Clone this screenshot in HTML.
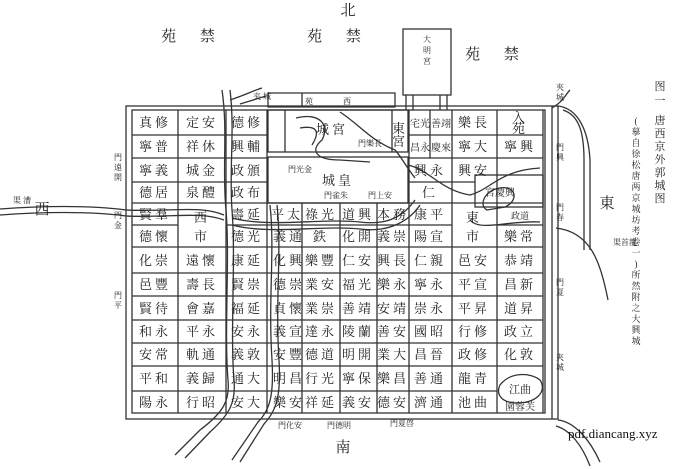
<!DOCTYPE html>
<html><head><meta charset="utf-8"><style>
html,body{margin:0;padding:0;background:#fff}
svg{display:block}
text{font-family:"Liberation Serif","Noto Serif CJK SC","Noto Sans CJK SC",serif;fill:#222}
.c{font-size:13px;text-anchor:middle;letter-spacing:3px}
.s{font-size:8px;text-anchor:middle}
.b{font-size:15px;text-anchor:middle}
</style></head><body>
<svg width="696" height="469" viewBox="0 0 696 469" xmlns="http://www.w3.org/2000/svg">
<g stroke="#333" fill="none" stroke-width="1.3">
<!-- outer wall -->
<rect x="126" y="106" width="432" height="313"/>
<rect x="132" y="110" width="413" height="303"/>
<line x1="552" y1="106" x2="552" y2="419"/>
<!-- 夹城 -->
<path d="M558 106 C575 108 588 125 590 160 L590 250"/>
<path d="M563 110 C578 115 584 130 584 160 L584 250"/>
<path d="M556 228 C590 232 600 260 608 300"/>
<path d="M558 420 C575 422 590 440 600 462"/>
<path d="M556 426 C570 430 582 445 590 466"/>
<!-- 大明宫 -->
<rect x="403" y="29" width="48" height="66"/>
<path d="M406 95 L406 110 M413 95 L413 110 M440 95 L440 110 M447 95 L447 110"/>
<path d="M268 93 L395 93 L395 107 L268 107 Z M302 93 L302 107"/>
<path d="M230 100 C245 95 255 90 262 88 M240 104 L266 96"/>
<!-- palace city -->
<rect x="268" y="110" width="140" height="42"/>
<line x1="392" y1="110" x2="392" y2="152"/>
<line x1="285" y1="110" x2="285" y2="152"/>
<rect x="268" y="157" width="140" height="46"/>
<!-- vertical grid lines -->
<path d="M178 110 V413 M226 110 V413 M267 110 V413 M302 203 V413 M340 203 V413 M377 203 V413 M409 110 V413 M452 110 V413 M497 110 V413 M543 110 V413 M430 110 V158"/>
<!-- horizontal lines west -->
<path d="M132 135 H267 M132 158 H267 M132 182 H267 M132 203 H267 M132 225 H178 M226 225 H267 M132 247 H267"/>
<!-- east upper -->
<path d="M409 135 H543 M409 158 H543 M409 182 H475 M409 203 H543 M409 225 H452 M497 225 H543 M409 247 H543"/>
<!-- center -->
<path d="M267 203 H409 M267 225 H409 M267 247 H409"/>
<!-- lower rows -->
<path d="M132 273 H543 M132 296 H543 M132 320 H543 M132 343 H543 M132 366 H543 M132 391 H497"/>
<!-- 兴庆宫 -->
<rect x="475" y="175" width="68" height="32"/>
<!-- rivers -->
<path d="M0 209 C40 206 90 205 126 210 C170 212 200 205 224 215"/>
<path d="M0 215 C40 212 90 211 126 216 C170 218 200 211 224 220"/>
<path d="M222 90 C228 130 222 170 226 210 C230 260 224 330 228 380 C230 400 224 412 200 430 L175 455"/>
<path d="M230 90 C235 130 229 170 232 210 C236 260 230 330 234 380 C236 402 230 414 210 432 L185 458"/>
<path d="M270 205 C275 250 268 300 272 360 C274 395 270 410 258 422 L232 460"/>
<path d="M277 205 C282 250 275 300 279 360 C281 395 277 410 264 424 L240 462"/>
<path d="M232 218 C270 228 320 218 360 222 C390 226 405 214 415 200"/>
<path d="M232 225 C270 235 320 225 360 229 C390 233 410 220 420 205"/>
<path d="M408 165 C430 170 440 190 470 195 C490 190 500 170 540 168"/>
<path d="M296 118 C320 112 330 125 322 140 C310 150 315 160 340 160 L370 162"/>
<path d="M300 128 C318 125 320 132 312 145"/>
<path d="M340 112 C360 125 370 140 395 150 C400 155 405 165 415 178"/>
<path d="M487 210 C478 205 485 190 500 188 C515 185 520 200 505 207 Z"/>
<path d="M470 220 C480 232 510 220 540 222"/>
<path d="M500 385 C510 372 530 372 540 380 C548 392 535 404 515 403 C500 402 496 393 500 385 Z"/>
<path d="M552 108 C565 100 565 95 570 90"/>
</g>
<!-- big labels -->
<text class="b" x="348" y="15">北</text>
<text class="b" x="193" y="41" letter-spacing="10">苑 禁</text>
<text class="b" x="339" y="41" letter-spacing="10">苑 禁</text>
<text class="b" x="497" y="59" letter-spacing="10">苑 禁</text>
<text class="b" x="42" y="214">西</text>
<text class="b" x="607" y="208">東</text>
<text class="b" x="343" y="452">南</text>
<text class="s" x="427" y="42">大</text><text class="s" x="427" y="53">明</text><text class="s" x="427" y="64">宮</text>
<text class="s" x="335" y="104" letter-spacing="14">苑 西</text>
<text class="s" x="262" y="99">夹 城</text>
<!-- title -->
<g font-size="11" text-anchor="middle">
<text x="660" y="90">图</text><text x="660" y="104">一</text>
<text x="660" y="124">唐</text><text x="660" y="137">西</text><text x="660" y="150">京</text><text x="660" y="163">外</text><text x="660" y="176">郭</text><text x="660" y="189">城</text><text x="660" y="202">图</text>
</g>
<g font-size="9" text-anchor="middle">
<text x="636" y="124">(</text><text x="636" y="135">摹</text><text x="636" y="146">自</text><text x="636" y="157">徐</text><text x="636" y="168">松</text><text x="636" y="179">唐</text><text x="636" y="190">两</text><text x="636" y="201">京</text><text x="636" y="212">城</text><text x="636" y="223">坊</text><text x="636" y="234">考</text><text x="636" y="245">卷</text><text x="636" y="256">一</text><text x="636" y="267">)</text><text x="636" y="278">所</text><text x="636" y="289">然</text><text x="636" y="300">附</text><text x="636" y="311">之</text><text x="636" y="322">大</text><text x="636" y="333">興</text><text x="636" y="344">城</text>
</g>
<!-- palace labels -->
<text class="c" x="332" y="134" font-size="10">城宮</text>
<text class="c" x="338" y="185">城皇</text>
<text class="s" x="300" y="172">門光金</text>
<text class="s" x="336" y="198">門雀朱</text>
<text class="s" x="380" y="198">門上安</text>
<text class="s" x="370" y="146">門樂長</text>
<text class="c" x="400" y="133" font-size="10">東</text>
<text class="c" x="400" y="146" font-size="10">宮</text>
<!-- west cols -->
<g class="c">
<text x="155" y="127" class="c">真修</text><text x="202" y="127" class="c">定安</text><text x="247" y="127" class="c">德修</text>
<text x="155" y="151" class="c">寧普</text><text x="202" y="151" class="c">祥休</text><text x="247" y="151" class="c">興輔</text>
<text x="155" y="175" class="c">寧義</text><text x="202" y="175" class="c">城金</text><text x="247" y="175" class="c">政頒</text>
<text x="155" y="197" class="c">德居</text><text x="202" y="197" class="c">泉醴</text><text x="247" y="197" class="c">政布</text>
<text x="155" y="219" class="c">賢羣</text><text x="247" y="219" class="c">壽延</text>
<text x="202" y="222" class="c">西</text><text x="202" y="241" class="c">市</text>
<text x="155" y="241" class="c">德懷</text><text x="247" y="241" class="c">德光</text>
<text x="155" y="265" class="c">化崇</text><text x="202" y="265" class="c">遠懷</text><text x="247" y="265" class="c">康延</text>
<text x="155" y="289" class="c">邑豐</text><text x="202" y="289" class="c">壽長</text><text x="247" y="289" class="c">賢崇</text>
<text x="155" y="313" class="c">賢待</text><text x="202" y="313" class="c">會嘉</text><text x="247" y="313" class="c">福延</text>
<text x="155" y="336" class="c">和永</text><text x="202" y="336" class="c">平永</text><text x="247" y="336" class="c">安永</text>
<text x="155" y="359" class="c">安常</text><text x="202" y="359" class="c">軌通</text><text x="247" y="359" class="c">義敦</text>
<text x="155" y="383" class="c">平和</text><text x="202" y="383" class="c">義歸</text><text x="247" y="383" class="c">通大</text>
<text x="155" y="407" class="c">陽永</text><text x="202" y="407" class="c">行昭</text><text x="247" y="407" class="c">安大</text>
</g>
<!-- center cols -->
<g>
<text x="287" y="219" class="c">平太</text><text x="321" y="219" class="c">祿光</text><text x="358" y="219" class="c">道興</text><text x="393" y="219" class="c">本務</text>
<text x="289" y="241" class="c">義通</text><text x="321" y="241" class="c">鉄</text><text x="358" y="241" class="c">化開</text><text x="393" y="241" class="c">義崇</text>
<text x="289" y="265" class="c">化興</text><text x="321" y="265" class="c">樂豐</text><text x="358" y="265" class="c">仁安</text><text x="393" y="265" class="c">興長</text>
<text x="289" y="289" class="c">德崇</text><text x="321" y="289" class="c">業安</text><text x="358" y="289" class="c">福光</text><text x="393" y="289" class="c">樂永</text>
<text x="289" y="313" class="c">貞懷</text><text x="321" y="313" class="c">業崇</text><text x="358" y="313" class="c">善靖</text><text x="393" y="313" class="c">安靖</text>
<text x="289" y="336" class="c">義宣</text><text x="321" y="336" class="c">達永</text><text x="358" y="336" class="c">陵蘭</text><text x="393" y="336" class="c">善安</text>
<text x="289" y="359" class="c">安豐</text><text x="321" y="359" class="c">德道</text><text x="358" y="359" class="c">明開</text><text x="393" y="359" class="c">業大</text>
<text x="289" y="383" class="c">明昌</text><text x="321" y="383" class="c">行光</text><text x="358" y="383" class="c">寧保</text><text x="393" y="383" class="c">樂昌</text>
<text x="289" y="407" class="c">樂安</text><text x="321" y="407" class="c">祥延</text><text x="358" y="407" class="c">義安</text><text x="393" y="407" class="c">德安</text>
</g>
<!-- east cols -->
<g>
<text x="420" y="127" font-size="10" text-anchor="middle">宅光</text><text x="441" y="127" font-size="10" text-anchor="middle">善翊</text>
<text x="474" y="127" class="c">樂長</text><text x="520" y="122" class="c">入</text><text x="520" y="133" class="c">苑</text>
<text x="420" y="151" font-size="10" text-anchor="middle">昌永</text><text x="441" y="151" font-size="10" text-anchor="middle">慶來</text>
<text x="474" y="151" class="c">寧大</text><text x="520" y="151" class="c">寧興</text>
<text x="430" y="175" class="c">興永</text><text x="474" y="175" class="c">興安</text>
<text x="430" y="197" class="c">仁</text><text x="500" y="196" font-size="10" text-anchor="middle">宮慶興</text>
<text x="430" y="219" class="c">康平</text><text x="474" y="222" class="c">東</text><text x="474" y="241" class="c">市</text><text x="520" y="219" font-size="9" text-anchor="middle">政道</text>
<text x="430" y="241" class="c">陽宣</text><text x="520" y="241" class="c">樂常</text>
<text x="430" y="265" class="c">仁親</text><text x="474" y="265" class="c">邑安</text><text x="520" y="265" class="c">恭靖</text>
<text x="430" y="289" class="c">寧永</text><text x="474" y="289" class="c">平宣</text><text x="520" y="289" class="c">昌新</text>
<text x="430" y="313" class="c">崇永</text><text x="474" y="313" class="c">平昇</text><text x="520" y="313" class="c">道昇</text>
<text x="430" y="336" class="c">國昭</text><text x="474" y="336" class="c">行修</text><text x="520" y="336" class="c">政立</text>
<text x="430" y="359" class="c">昌晉</text><text x="474" y="359" class="c">政修</text><text x="520" y="359" class="c">化敦</text>
<text x="430" y="383" class="c">善通</text><text x="474" y="383" class="c">龍青</text><text x="520" y="393" font-size="11" text-anchor="middle">江曲</text>
<text x="430" y="407" class="c">濟通</text><text x="474" y="407" class="c">池曲</text><text x="520" y="410" font-size="10" text-anchor="middle">園蓉芙</text>
</g>
<!-- gates -->
<g font-size="8" text-anchor="middle">
<text x="290" y="428">門化安</text><text x="339" y="428">門德明</text><text x="402" y="426">門夏啓</text>
<text x="118" y="160">門</text><text x="118" y="170">遠</text><text x="118" y="180">開</text>
<text x="118" y="218">門</text><text x="118" y="228">金</text>
<text x="118" y="298">門</text><text x="118" y="308">平</text>
<text x="560" y="150">門</text><text x="560" y="160">興</text>
<text x="560" y="210">門</text><text x="560" y="220">春</text>
<text x="560" y="285">門</text><text x="560" y="295">夏</text>
<text x="560" y="360">夾</text><text x="560" y="370">城</text>
<text x="560" y="90">夾</text><text x="560" y="100">城</text>
<text x="22" y="203">渠 漕</text>
<text x="625" y="245">渠首龍</text>
</g>
<text x="568" y="438" font-family="Liberation Sans, sans-serif" font-size="13" style="fill:#111">pdf.diancang.xyz</text>
</svg>
</body></html>
